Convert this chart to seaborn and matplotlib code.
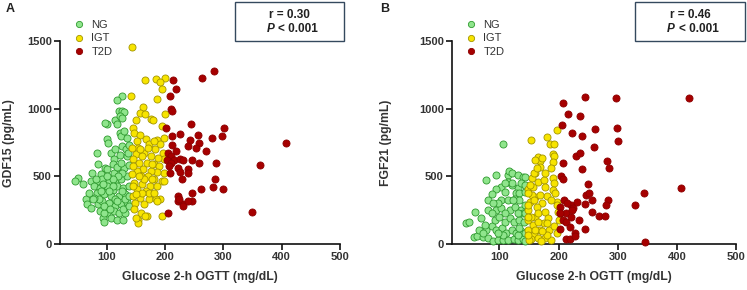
import matplotlib
matplotlib.use('Agg')
import matplotlib.pyplot as plt
from matplotlib.lines import Line2D
from matplotlib.patches import Rectangle
import seaborn as sns
import pandas as pd

##################################################################################
# data (glucose 2-h OGTT mg/dL, marker pg/mL)
##################################################################################
# panel A : GDF15
A_NG_X = [127, 117, 101, 97, 114, 118, 121, 126, 129, 123, 127, 123, 125, 100, 102,
          129, 135, 84, 107, 115, 127, 133, 139, 113, 123, 85, 97, 50, 45, 60, 74,
          73, 90, 101, 113, 121, 130, 138, 84, 92, 104, 115, 125, 134, 78, 88, 100,
          110, 118, 128, 138, 84, 95, 107, 121, 131, 64, 66, 73, 85, 92, 104, 114,
          124, 135, 88, 100, 113, 121, 132, 94, 96, 107, 118, 128, 96, 87, 78, 101,
          94, 111, 117, 125, 134, 137, 127, 119, 110, 100, 90, 115, 128, 82, 69, 76,
          95, 106, 118, 131, 138, 138, 127, 111, 104]
A_NG_Y = [1092, 1065, 890, 897, 914, 885, 983, 983, 976, 946, 934, 823, 798, 773, 744,
          835, 786, 670, 675, 699, 724, 699, 729, 625, 655, 588, 563, 489, 465, 445, 526,
          465, 514, 551, 526, 563, 563, 581, 465, 477, 457, 465, 477, 502, 427, 415, 403,
          398, 427, 415, 427, 378, 366, 353, 353, 373, 329, 292, 267, 292, 316, 304, 279,
          292, 309, 242, 230, 242, 230, 230, 193, 161, 193, 180, 175, 230, 334, 341, 427,
          447, 588, 571, 600, 650, 675, 526, 502, 477, 502, 390, 329, 255, 477, 378, 329,
          279, 259, 316, 329, 353, 279, 390, 427, 390]

A_IGT_X = [143, 165, 184, 200, 191, 195, 186, 142, 163, 157, 165, 176, 179, 200, 195,
           198, 150, 145, 147, 157, 152, 167, 172, 186, 191, 182, 197, 198, 153, 164,
           176, 150, 145, 156, 169, 181, 189, 199, 187, 176, 162, 152, 144, 158, 170,
           181, 194, 147, 161, 174, 152, 168, 145, 157, 172, 191, 149, 164, 184, 186,
           147, 158, 169, 154, 165, 154, 195, 150, 177, 164, 156, 186, 198, 178, 161,
           170, 181, 144, 145, 145, 172, 181, 161, 151, 188, 157]
A_IGT_Y = [1458, 1211, 1218, 1223, 1194, 1142, 1075, 1090, 1013, 971, 959, 922, 914, 959,
           872, 786, 914, 860, 823, 803, 761, 773, 736, 768, 736, 699, 675, 625, 712, 675,
           650, 662, 625, 600, 600, 593, 576, 526, 531, 539, 551, 539, 514, 502, 502, 477,
           465, 452, 440, 427, 403, 390, 353, 341, 329, 329, 304, 292, 329, 316, 255, 230,
           210, 180, 205, 156, 205, 193, 477, 477, 502, 427, 465, 588, 650, 712, 761, 712,
           576, 427, 378, 378, 378, 366, 637, 699]

A_T2D_X = [213, 218, 208, 210, 212, 264, 284, 202, 212, 226, 245, 256, 242, 259, 240,
           253, 212, 218, 205, 280, 298, 301, 271, 211, 204, 216, 210, 225, 231, 223,
           206, 209, 229, 225, 239, 240, 246, 258, 288, 286, 222, 222, 230, 231, 246,
           247, 262, 283, 299, 362, 407, 349, 205, 239, 224]
A_T2D_Y = [1213, 1149, 1090, 996, 986, 1228, 1280, 855, 800, 810, 885, 806, 768, 749, 724,
           712, 731, 687, 675, 783, 801, 860, 687, 650, 618, 620, 596, 625, 620, 563,
           576, 526, 477, 531, 551, 524, 620, 600, 595, 477, 353, 316, 297, 279, 378,
           316, 410, 422, 408, 583, 744, 235, 230, 319, 329]

# panel B : FGF21
B_NG_X = [107, 78, 94, 115, 115, 117, 121, 132, 140, 144, 131, 136, 121, 128, 134,
          102, 109, 94, 87, 81, 103, 115, 126, 134, 144, 43, 49, 59, 69, 57, 63, 72,
          81, 90, 97, 106, 115, 124, 132, 140, 78, 87, 94, 104, 112, 121, 129, 137,
          144, 92, 100, 109, 118, 125, 134, 142, 94, 103, 118, 126, 137, 143, 97, 81,
          75, 66, 106, 132, 143, 72, 121, 109, 143, 123, 140, 90, 87, 109, 132, 134,
          144, 97]
B_NG_Y = [736, 472, 509, 509, 460, 541, 526, 509, 497, 497, 411, 453, 436, 374, 379,
          423, 387, 404, 367, 325, 325, 325, 330, 325, 387, 154, 166, 240, 191, 51, 56,
          49, 44, 20, 32, 32, 27, 37, 32, 37, 105, 130, 105, 117, 81, 105, 81, 93, 81,
          179, 203, 166, 191, 166, 179, 166, 252, 264, 252, 276, 252, 289, 301, 252,
          142, 105, 69, 69, 20, 81, 448, 448, 436, 325, 228, 301, 228, 228, 228, 117,
          228, 81]

B_IGT_X = [153, 181, 197, 185, 193, 190, 193, 191, 165, 169, 160, 172, 168, 160, 155,
           148, 157, 166, 175, 191, 193, 190, 194, 197, 177, 161, 172, 163, 152, 148,
           160, 166, 177, 183, 175, 169, 159, 153, 166, 177, 188, 197, 184, 192, 149,
           149, 157, 150, 171, 181, 200, 199, 197, 155, 153, 149, 159, 163, 181, 187,
           149, 149, 160, 172, 180, 166, 149, 159, 169, 152, 177, 187]
B_IGT_Y = [766, 790, 839, 741, 736, 668, 648, 607, 643, 614, 619, 639, 570, 521, 484,
           404, 423, 460, 472, 484, 448, 399, 374, 313, 423, 350, 301, 276, 313, 252,
           203, 228, 240, 191, 154, 105, 69, 37, 44, 44, 32, 81, 105, 130, 105, 179,
           142, 32, 20, 69, 179, 240, 289, 362, 203, 374, 521, 558, 355, 325, 203, 69,
           105, 93, 154, 166, 289, 325, 362, 436, 521, 558]

B_T2D_X = [208, 244, 297, 420, 216, 237, 206, 223, 240, 261, 299, 301, 260, 230, 237,
           240, 207, 204, 207, 209, 282, 285, 330, 345, 407, 250, 246, 251, 257, 245,
           256, 268, 279, 283, 281, 221, 225, 203, 202, 213, 221, 234, 208, 213, 220,
           202, 228, 212, 220, 228, 244, 202, 347, 222, 231, 215]
B_T2D_Y = [1045, 1089, 1077, 1077, 957, 949, 881, 820, 795, 851, 856, 761, 717, 653, 673,
           551, 602, 504, 480, 325, 614, 565, 289, 374, 416, 443, 362, 374, 325, 296,
           240, 208, 208, 325, 289, 289, 264, 277, 228, 232, 196, 179, 179, 159, 122,
           113, 81, 37, 37, 56, 110, 228, 12, 252, 313, 306]

GROUPS = ['NG', 'IGT', 'T2D']
FACE = {'NG': '#8fe58c', 'IGT': '#f7e400', 'T2D': '#a60000'}
EDGE = {'NG': '#2f9a2f', 'IGT': '#a39500', 'T2D': '#8c0000'}

PANELS = [
    ('A', 'GDF15 (pg/mL)', 'r = 0.30',
     {'NG': (A_NG_X, A_NG_Y), 'IGT': (A_IGT_X, A_IGT_Y), 'T2D': (A_T2D_X, A_T2D_Y)}),
    ('B', 'FGF21 (pg/mL)', 'r = 0.46',
     {'NG': (B_NG_X, B_NG_Y), 'IGT': (B_IGT_X, B_IGT_Y), 'T2D': (B_T2D_X, B_T2D_Y)}),
]

##################################################################################
# plotting
##################################################################################
sns.set_style('ticks')
plt.rcParams['font.family'] = ['Liberation Sans', 'DejaVu Sans']

W, H = 747, 290
fig = plt.figure(figsize=(W / 100, H / 100), dpi=100)

def fx(px):
    return px / W

def fy(py):
    return 1 - py / H

# pixel layout per panel: axes left, axes right, panel label x, legend x, box x0, box x1, ylabel x
LAYOUT = [
    dict(l=60, r=340, lab=10, leg=68, b0=235, b1=344, yl=9),
    dict(l=452, r=736, lab=385, leg=460, b0=635, b1=745, yl=386),
]
AX_TOP, AX_BOT = 41, 244

for (lab, ylab, rtxt, groups), lay in zip(PANELS, LAYOUT):
    ax = fig.add_axes([fx(lay['l']), fy(AX_BOT), fx(lay['r'] - lay['l']),
                       (AX_BOT - AX_TOP) / H])
    for g in GROUPS:
        df = pd.DataFrame({'x': groups[g][0], 'y': groups[g][1]})
        sns.scatterplot(data=df, x='x', y='y', ax=ax, s=26, color=FACE[g],
                        edgecolor=EDGE[g], linewidth=0.6, clip_on=False, zorder=3)
    ax.set_xlim(20, 500)
    ax.set_ylim(0, 1500)
    ax.set_xticks([100, 200, 300, 400, 500])
    ax.set_yticks([0, 500, 1000, 1500])
    ax.set_xlabel('')
    ax.set_ylabel('')
    sns.despine(ax=ax)
    for sp in ['left', 'bottom']:
        ax.spines[sp].set_linewidth(1.2)
        ax.spines[sp].set_color('#111111')
    ax.tick_params(length=4, width=1.2, color='#111111', labelsize=8,
                   labelcolor='#333333', pad=2)
    for t in ax.get_xticklabels() + ax.get_yticklabels():
        t.set_fontweight('bold')

    # axis labels
    cx = (lay['l'] + lay['r']) / 2
    fig.text(fx(cx), fy(277), 'Glucose 2-h OGTT (mg/dL)', ha='center', va='center',
             fontsize=8.8, fontweight='bold', color='#333333')
    fig.text(fx(lay['yl']), fy(143), ylab, ha='center', va='center', rotation=90,
             fontsize=8.8, fontweight='bold', color='#333333')

    # panel label
    fig.text(fx(lay['lab']), fy(9), lab, ha='center', va='center', fontsize=9,
             fontweight='bold', color='#222222')

    # legend
    handles = [Line2D([], [], ls='', marker='o', markersize=4.5,
                      markerfacecolor=FACE[g], markeredgecolor=EDGE[g],
                      markeredgewidth=0.6) for g in GROUPS]
    fig.legend(handles, GROUPS, loc='upper left',
               bbox_to_anchor=(fx(lay['leg']), fy(14)), frameon=False,
               fontsize=8, handletextpad=0.6, labelspacing=0.35,
               handlelength=1.0, borderpad=0, labelcolor='#333333')

    # stats box
    b0, b1 = lay['b0'], lay['b1']
    fig.patches.append(Rectangle((fx(b0), fy(41)), fx(b1 - b0), 39 / H,
                                 transform=fig.transFigure, fill=False,
                                 edgecolor='#34495e', linewidth=1.0))
    bc = (b0 + b1) / 2
    fig.text(fx(bc), fy(15), rtxt, ha='center', va='center', fontsize=8.5,
             fontweight='bold', color='#222222')
    fig.text(fx(bc - 23), fy(29), 'P', ha='left', va='center', fontsize=8.5,
             fontweight='bold', fontstyle='italic', color='#222222')
    fig.text(fx(bc - 11), fy(29), '< 0.001', ha='left', va='center', fontsize=8.5,
             fontweight='bold', color='#222222')

plt.savefig('out.png', dpi=100)
